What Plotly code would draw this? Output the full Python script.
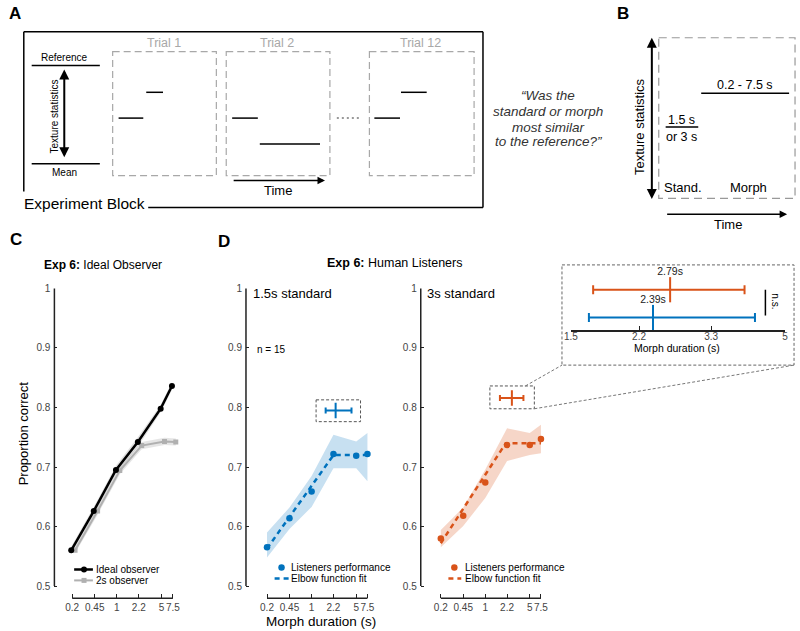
import numpy as np
import plotly.graph_objects as go

W, H = 800, 631
FONT = "Liberation Sans, Arial, Helvetica, sans-serif"

# ---------------- data ----------------
morph_durations = [0.2, 0.45, 1, 2.2, 5, 7.5]
duration_tick_text = ["0.2", "0.45", "1", "2.2", "5", "7.5"]
prop_ticks = [0.5, 0.6, 0.7, 0.8, 0.9, 1.0]
prop_tick_text = ["0.5", "0.6", "0.7", "0.8", "0.9", "1"]

ideal_observer = [0.560, 0.626, 0.695, 0.742, 0.798, 0.836]
ideal_observer_lo = [0.554, 0.619, 0.688, 0.734, 0.792, 0.830]
ideal_observer_hi = [0.566, 0.633, 0.702, 0.750, 0.804, 0.842]
observer_2s = [0.560, 0.626, 0.694, 0.736, 0.743, 0.742]
observer_2s_lo = [0.555, 0.620, 0.688, 0.730, 0.737, 0.736]
observer_2s_hi = [0.565, 0.632, 0.700, 0.742, 0.749, 0.748]

listeners_15 = [0.565, 0.614, 0.659, 0.722, 0.719, 0.722]
listeners_15_lo = [0.548, 0.596, 0.633, 0.698, 0.698, 0.676]
listeners_15_hi = [0.590, 0.632, 0.685, 0.754, 0.743, 0.757]
listeners_3 = [0.580, 0.618, 0.674, 0.737, 0.737, 0.747]
listeners_3_lo = [0.565, 0.601, 0.648, 0.710, 0.720, 0.723]
listeners_3_hi = [0.594, 0.632, 0.696, 0.765, 0.757, 0.771]

fit_15_x = [0.2, 2.2, 7.5]
fit_15_y = [0.563, 0.720, 0.720]
fit_3_x = [0.2, 2.1, 7.5]
fit_3_y = [0.572, 0.740, 0.740]

elbow_labels = ["2.39s", "2.79s"]      # 1.5 s standard, 3 s standard
elbow_center = [2.38, 2.62]
elbow_ci_lo = [1.66, 1.70]
elbow_ci_hi = [4.22, 3.98]
inset_ticks = [1.5, 2.2, 3.3, 5]
inset_tick_text = ["1.5", "2.2", "3.3", "5"]

# ---------------- style ----------------
BLUE = "#0072BD"
ORANGE = "#D95319"
BLUE_BAND = "rgba(0,114,189,0.22)"
ORANGE_BAND = "rgba(217,83,25,0.24)"
GRAY = "#b0b0b0"
AX = "#222222"
TICKC = "#444444"

# ---------------- geometry helpers ----------------
def px_x(a, b):
    return [a / W, b / W]


def px_y(top, bot):
    return [1 - bot / H, 1 - top / H]


def log_range(L, R, p_lo, p_hi, v_lo=0.2, v_hi=7.5):
    k = (np.log10(v_hi) - np.log10(v_lo)) / (p_hi - p_lo)
    return [np.log10(v_lo) - (p_lo - L) * k, np.log10(v_hi) + (R - p_hi) * k]


Y_TOP, Y_ONE, Y_HALF, Y_BOT = 285.7, 285.7, 585.7, 598.0
PX_PER_UNIT = (Y_HALF - Y_ONE) / 0.5
Y_RANGE = [0.5 - (Y_BOT - Y_HALF) / PX_PER_UNIT, 1.0]

# panel: (left edge, right edge, px of 0.2, px of 7.5)
PANELS = {"": (48, 178, 66, 168), "2": (242, 375, 263.3, 365), "3": (419, 551, 439.3, 540.7)}

fig = go.Figure()
shapes = []
annotations = []


def seg(x0, y0, x1, y1, color="black", width=1.5, dash=None):
    shapes.append(dict(type="line", xref="x5", yref="y5", x0=x0, y0=y0, x1=x1, y1=y1,
                       line=dict(color=color, width=width, dash=dash)))


def box(x0, y0, x1, y1, color="#999", width=1, dash="dash"):
    shapes.append(dict(type="rect", xref="x5", yref="y5", x0=x0, y0=y0, x1=x1, y1=y1,
                       fillcolor="rgba(0,0,0,0)", line=dict(color=color, width=width, dash=dash)))


def txt(x, y, s, size, color="black", anchor="center", angle=0, valign="middle"):
    annotations.append(dict(x=x, y=y, xref="x5", yref="y5", text=s, showarrow=False,
                            font=dict(family=FONT, size=size, color=color),
                            xanchor=anchor, yanchor=valign, textangle=angle, borderpad=0))


def arrow(x0, y0, x1, y1, width=1.5, both=False, head=2, size=1.0):
    d = dict(x=x1, y=y1, ax=x0, ay=y0, xref="x5", yref="y5", axref="x5", ayref="y5",
             text="", showarrow=True, arrowhead=head, arrowsize=size, arrowwidth=width,
             arrowcolor="black", standoff=0, startstandoff=0,
             arrowside="end+start" if both else "end")
    if both:
        d.update(startarrowhead=head, startarrowsize=size)
    annotations.append(d)


# ---------------- axes for data panels ----------------
layout_axes = {}
for s, (L, R, p_lo, p_hi) in PANELS.items():
    xr = log_range(L, R, p_lo, p_hi)
    layout_axes["xaxis" + s] = dict(
        domain=px_x(L, R), type="log", range=xr, tickvals=morph_durations,
        ticktext=duration_tick_text, ticks="inside", ticklen=4, tickwidth=1.2, tickcolor=AX,
        tickangle=0, ticklabelstandoff=2, showline=False, showgrid=False, zeroline=False,
        tickfont=dict(family=FONT, size=10, color=TICKC), anchor="y" + s, fixedrange=True)
    layout_axes["yaxis" + s] = dict(
        domain=px_y(Y_TOP, Y_BOT), range=Y_RANGE, tickvals=prop_ticks, ticktext=prop_tick_text,
        ticks="inside", ticklen=3, tickwidth=1.2, tickcolor=AX, showline=False, showgrid=False,
        zeroline=False, tickfont=dict(family=FONT, size=10, color=TICKC), anchor="x" + s,
        ticklabelstandoff=3, fixedrange=True)
    # detached axis lines (MATLAB offset style)
    seg(L, Y_ONE, L, Y_HALF, color=AX, width=1.5)
    seg(p_lo, Y_BOT, p_hi, Y_BOT, color=AX, width=1.5)

# inset axis
INSET_L, INSET_R, INSET_AX_Y = 571, 788, 328
ROW_ORANGE_PX, ROW_BLUE_PX = 287, 315
row_k = ROW_BLUE_PX - ROW_ORANGE_PX
layout_axes["xaxis4"] = dict(
    domain=px_x(INSET_L, INSET_R), type="log", range=[np.log10(1.5), np.log10(5)],
    tickvals=inset_ticks, ticktext=inset_tick_text, ticks="inside", ticklen=5, tickwidth=1.2,
    tickangle=0, ticklabelstandoff=-4, tickcolor=AX, showline=True, linecolor=AX,
    linewidth=1.5, showgrid=False, zeroline=False,
    tickfont=dict(family=FONT, size=10, color=TICKC), anchor="y4", fixedrange=True)
layout_axes["yaxis4"] = dict(
    domain=px_y(262, INSET_AX_Y),
    range=[-(INSET_AX_Y - ROW_BLUE_PX) / row_k, 1 + (ROW_ORANGE_PX - 262) / row_k],
    visible=False, anchor="x4", fixedrange=True)
# pixel overlay canvas for schematic parts
layout_axes["xaxis5"] = dict(domain=[0, 1], range=[0, W], visible=False, anchor="y5", fixedrange=True)
layout_axes["yaxis5"] = dict(domain=[0, 1], range=[H, 0], visible=False, anchor="x5", fixedrange=True)


def band(xa, ya, x, lo, hi, color):
    fig.add_trace(go.Scatter(x=list(x) + list(x)[::-1], y=list(hi) + list(lo)[::-1],
                             fill="toself", fillcolor=color, line=dict(width=0), mode="lines",
                             hoverinfo="skip", xaxis=xa, yaxis=ya))


# ---------------- panel C ----------------
x_black = [d * 10 ** (-0.015) for d in morph_durations]
x_gray = [d * 10 ** (0.045) for d in morph_durations]
band("x", "y", x_gray, observer_2s_lo, observer_2s_hi, "rgba(170,170,170,0.3)")
band("x", "y", x_black, ideal_observer_lo, ideal_observer_hi, "rgba(150,150,150,0.3)")
fig.add_trace(go.Scatter(x=x_gray, y=observer_2s, mode="lines+markers", xaxis="x", yaxis="y",
                         line=dict(color=GRAY, width=2),
                         marker=dict(symbol="square", size=5, color=GRAY)))
fig.add_trace(go.Scatter(x=x_black, y=ideal_observer, mode="lines+markers", xaxis="x", yaxis="y",
                         line=dict(color="black", width=2.5),
                         marker=dict(symbol="circle", size=6, color="black")))

# ---------------- panel D ----------------
for s, mean, lo, hi, fx, fy, col, bcol in [
    ("2", listeners_15, listeners_15_lo, listeners_15_hi, fit_15_x, fit_15_y, BLUE, BLUE_BAND),
    ("3", listeners_3, listeners_3_lo, listeners_3_hi, fit_3_x, fit_3_y, ORANGE, ORANGE_BAND),
]:
    band("x" + s, "y" + s, morph_durations, lo, hi, bcol)
    fig.add_trace(go.Scatter(x=fx, y=fy, mode="lines", xaxis="x" + s, yaxis="y" + s,
                             line=dict(color=col, width=2.5, dash="5px,4px")))
    fig.add_trace(go.Scatter(x=morph_durations, y=mean, mode="markers", xaxis="x" + s,
                             yaxis="y" + s, marker=dict(size=6.5, color=col)))

# summary elbow error bars inside D panels
for i, (s, yv, col) in enumerate([("2", 0.795, BLUE), ("3", 0.816, ORANGE)]):
    fig.add_trace(go.Scatter(
        x=[elbow_center[i]], y=[yv], mode="markers", xaxis="x" + s, yaxis="y" + s,
        marker=dict(symbol="line-ns", size=11, line=dict(width=2, color=col), color=col),
        error_x=dict(type="data", symmetric=False, array=[elbow_ci_hi[i] - elbow_center[i]],
                     arrayminus=[elbow_center[i] - elbow_ci_lo[i]], width=3, thickness=2,
                     color=col)))

# inset
for i, (row, col) in enumerate([(0, BLUE), (1, ORANGE)]):
    fig.add_trace(go.Scatter(
        x=[elbow_center[i]], y=[row], mode="markers+text", xaxis="x4", yaxis="y4",
        text=[elbow_labels[i]], textposition="top center",
        textfont=dict(family=FONT, size=10.5, color="#222"),
        marker=dict(symbol="line-ns", size=18, line=dict(width=2, color=col), color=col),
        error_x=dict(type="data", symmetric=False, array=[elbow_ci_hi[i] - elbow_center[i]],
                     arrayminus=[elbow_center[i] - elbow_ci_lo[i]], width=4.5, thickness=2,
                     color=col), cliponaxis=False))

# ---------------- legends (glyphs on pixel canvas) ----------------
def legend_item(x0, x1, y, color, width, dash=None, symbol=None, msize=6, mx=None):
    if x1 is not None:
        fig.add_trace(go.Scatter(x=[x0, x1], y=[y, y], mode="lines", xaxis="x5", yaxis="y5",
                                 line=dict(color=color, width=width, dash=dash)))
    if symbol:
        fig.add_trace(go.Scatter(x=[mx], y=[y], mode="markers", xaxis="x5", yaxis="y5",
                                 marker=dict(symbol=symbol, size=msize, color=color)))


legend_item(68, 87, 569, "black", 2.5, symbol="circle", msize=6, mx=78)
txt(89, 569, "Ideal observer", 10, anchor="left")
legend_item(68, 87, 580, GRAY, 2, symbol="square", msize=5, mx=78)
txt(89, 580, "2s observer", 10, anchor="left")

legend_item(None, None, 567, BLUE, 0, symbol="circle", msize=6.5, mx=278)
txt(287, 567, "Listeners performance", 10, anchor="left")
legend_item(271, 286, 578, BLUE, 2.5, dash="5px,4px")
txt(287, 578, "Elbow function fit", 10, anchor="left")

legend_item(None, None, 567, ORANGE, 0, symbol="circle", msize=6.5, mx=453)
txt(463, 567, "Listeners performance", 10, anchor="left")
legend_item(447, 460, 578, ORANGE, 2.5, dash="5px,4px")
txt(463, 578, "Elbow function fit", 10, anchor="left")

# ---------------- panel texts ----------------
txt(9, 236, "<b>C</b>", 17)
txt(97, 262, "<b>Exp 6:</b> Ideal Observer", 12)
txt(17, 432, "Proportion correct", 13, angle=-90)
txt(220, 238, "<b>D</b>", 17)
txt(392, 260, "<b>Exp 6:</b> Human Listeners", 12.5)
txt(248, 291, "1.5s standard", 13, anchor="left")
txt(252, 347, "n = 15", 10, anchor="left")
txt(424, 291, "3s standard", 13, anchor="left")
txt(318, 621, "Morph duration (s)", 13.5)

# zoom boxes / connectors / inset frame
box(313, 398, 358, 420, color="#555", width=1, dash="3px,2px")
box(489, 384, 534, 407, color="#555", width=1, dash="3px,2px")
box(562, 262, 797, 363, color="#666", width=1, dash="3px,2px")
seg(525, 384, 562, 363, color="#777", width=1, dash="3px,2px")
seg(534, 407, 797, 363, color="#777", width=1, dash="3px,2px")
txt(678, 346, "Morph duration (s)", 10.5)
seg(768, 287, 768, 313, color="black", width=1.5)
txt(778, 299, "n.s.", 10, angle=90)

# ---------------- panel A (schematic) ----------------
txt(8, 9, "<b>A</b>", 17)
seg(17, 27, 482, 27)
seg(17, 27, 17, 188)
seg(482, 27, 482, 204)
seg(143, 204, 482, 204)
txt(16, 200, "Experiment Block", 15.5, anchor="left")

txt(58, 53, "Reference", 10)
seg(25, 61, 94, 61)
seg(25, 160, 94, 160)
txt(58, 169, "Mean", 10)
arrow(58, 155, 58, 65, width=2, both=True, head=2, size=1.0)
txt(48, 112, "Texture statistics", 10, angle=-90)

TRIAL_GRAY = "#a8a8a8"
for (x0, x1, title) in [(107, 212, "Trial 1"), (222, 327, "Trial 2"), (367, 473, "Trial 12")]:
    box(x0, 47, x1, 172, color=TRIAL_GRAY, width=1.2, dash="7px,4px")
    txt((x0 + x1) / 2 - 1, 38, title, 12.5, color=TRIAL_GRAY)
seg(113, 114, 138, 114)
seg(141, 88, 158, 88)
seg(228, 114, 254, 114)
seg(256, 140, 317, 140)
seg(372, 114, 398, 114)
seg(399, 88, 425, 88)
seg(334, 114, 358, 114, color="#999", width=2, dash="2px,3px")
arrow(228, 177, 322, 177, width=1.5, head=2, size=1.0)
txt(274, 187, "Time", 13)

QC = "#333333"
for yy, line_txt in [(91, "\u201cWas the"), (107, "standard or morph"), (123, "most similar"),
                     (138, "to the reference?\u201d")]:
    txt(548, yy, "<i>" + line_txt + "</i>", 13.5, color=QC)

# ---------------- panel B (schematic) ----------------
txt(624, 9, "<b>B</b>", 17)
box(660, 33, 798, 195, color="#999", width=1.2, dash="8px,5px")
arrow(653, 197, 653, 33, width=2, both=True, head=2, size=1.0)
txt(640, 123, "Texture statistics", 13, angle=-90)
txt(683, 116, "1.5 s", 12.5)
seg(667, 123, 700, 123)
txt(683, 133, "or 3 s", 12.5)
txt(747, 81, "0.2 - 7.5 s", 12.5)
seg(703, 89, 792, 89)
txt(685, 184, "Stand.", 13)
txt(751, 184, "Morph", 13)
arrow(667, 211, 790, 211, width=1.5, head=2, size=1.0)
txt(730, 221, "Time", 13)

fig.update_layout(
    width=W, height=H, margin=dict(l=0, r=0, t=0, b=0),
    paper_bgcolor="white", plot_bgcolor="rgba(0,0,0,0)", showlegend=False,
    font=dict(family=FONT, color="black"),
    shapes=shapes, annotations=annotations, **layout_axes)

fig.write_html("out.html", config={"displayModeBar": False},
               post_script="document.body.style.margin='0';")
